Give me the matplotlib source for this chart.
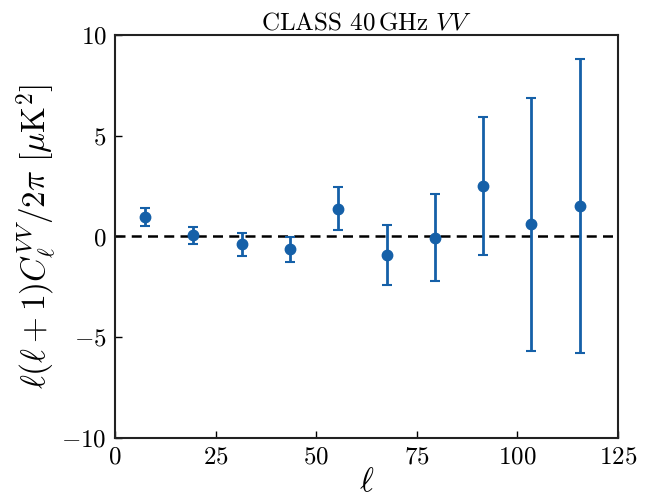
import matplotlib
matplotlib.use("Agg")
import matplotlib.pyplot as plt

ell = [7.5, 19.5, 31.5, 43.5, 55.5, 67.5, 79.5, 91.5, 103.5, 115.5]
dl = [0.95, 0.07, -0.39, -0.64, 1.38, -0.91, -0.06, 2.49, 0.60, 1.50]
err = [0.45, 0.42, 0.57, 0.63, 1.06, 1.50, 2.17, 3.42, 6.26, 7.30]
xticks = [0, 25, 50, 75, 100, 125]
yticks = [-10, -5, 0, 5, 10]

plt.rcParams['font.family'] = 'serif'
plt.rcParams['font.serif'] = ['cmr10', 'DejaVu Serif']
plt.rcParams['mathtext.fontset'] = 'cm'
plt.rcParams['axes.formatter.use_mathtext'] = True
plt.rcParams['axes.unicode_minus'] = True

fig = plt.figure(figsize=(6.47, 4.97), dpi=100)
ax = fig.add_axes([0.1777, 0.1187, 0.7773, 0.8109])

col = '#1560a8'
ax.axhline(0, color='black', ls='--', lw=1.8, dashes=(4, 2.5), zorder=1)
ax.errorbar(ell, dl, yerr=err, fmt='o', color=col, ms=7.5, elinewidth=2,
            capsize=3.5, capthick=1.5, zorder=3)

ax.set_xlim(0, 125)
ax.set_ylim(-10, 10)
ax.set_xticks(xticks)
ax.set_yticks(yticks)
ax.tick_params(direction='in', labelsize=18, length=5, width=1, pad=6)
for s in ax.spines.values():
    s.set_linewidth(1.5)
    s.set_color('#222222')

ax.set_xlabel(r'$\ell$', fontsize=24, labelpad=0)
ax.set_ylabel(r'$\ell(\ell+1)C_\ell^{VV}/2\pi\ [\mu\mathrm{K}^2]$', fontsize=24, labelpad=2)
ax.set_title(r'CLASS $40\,\mathrm{GHz}$ $VV$', fontsize=18, pad=4)

fig.savefig('out.png', dpi=100)
